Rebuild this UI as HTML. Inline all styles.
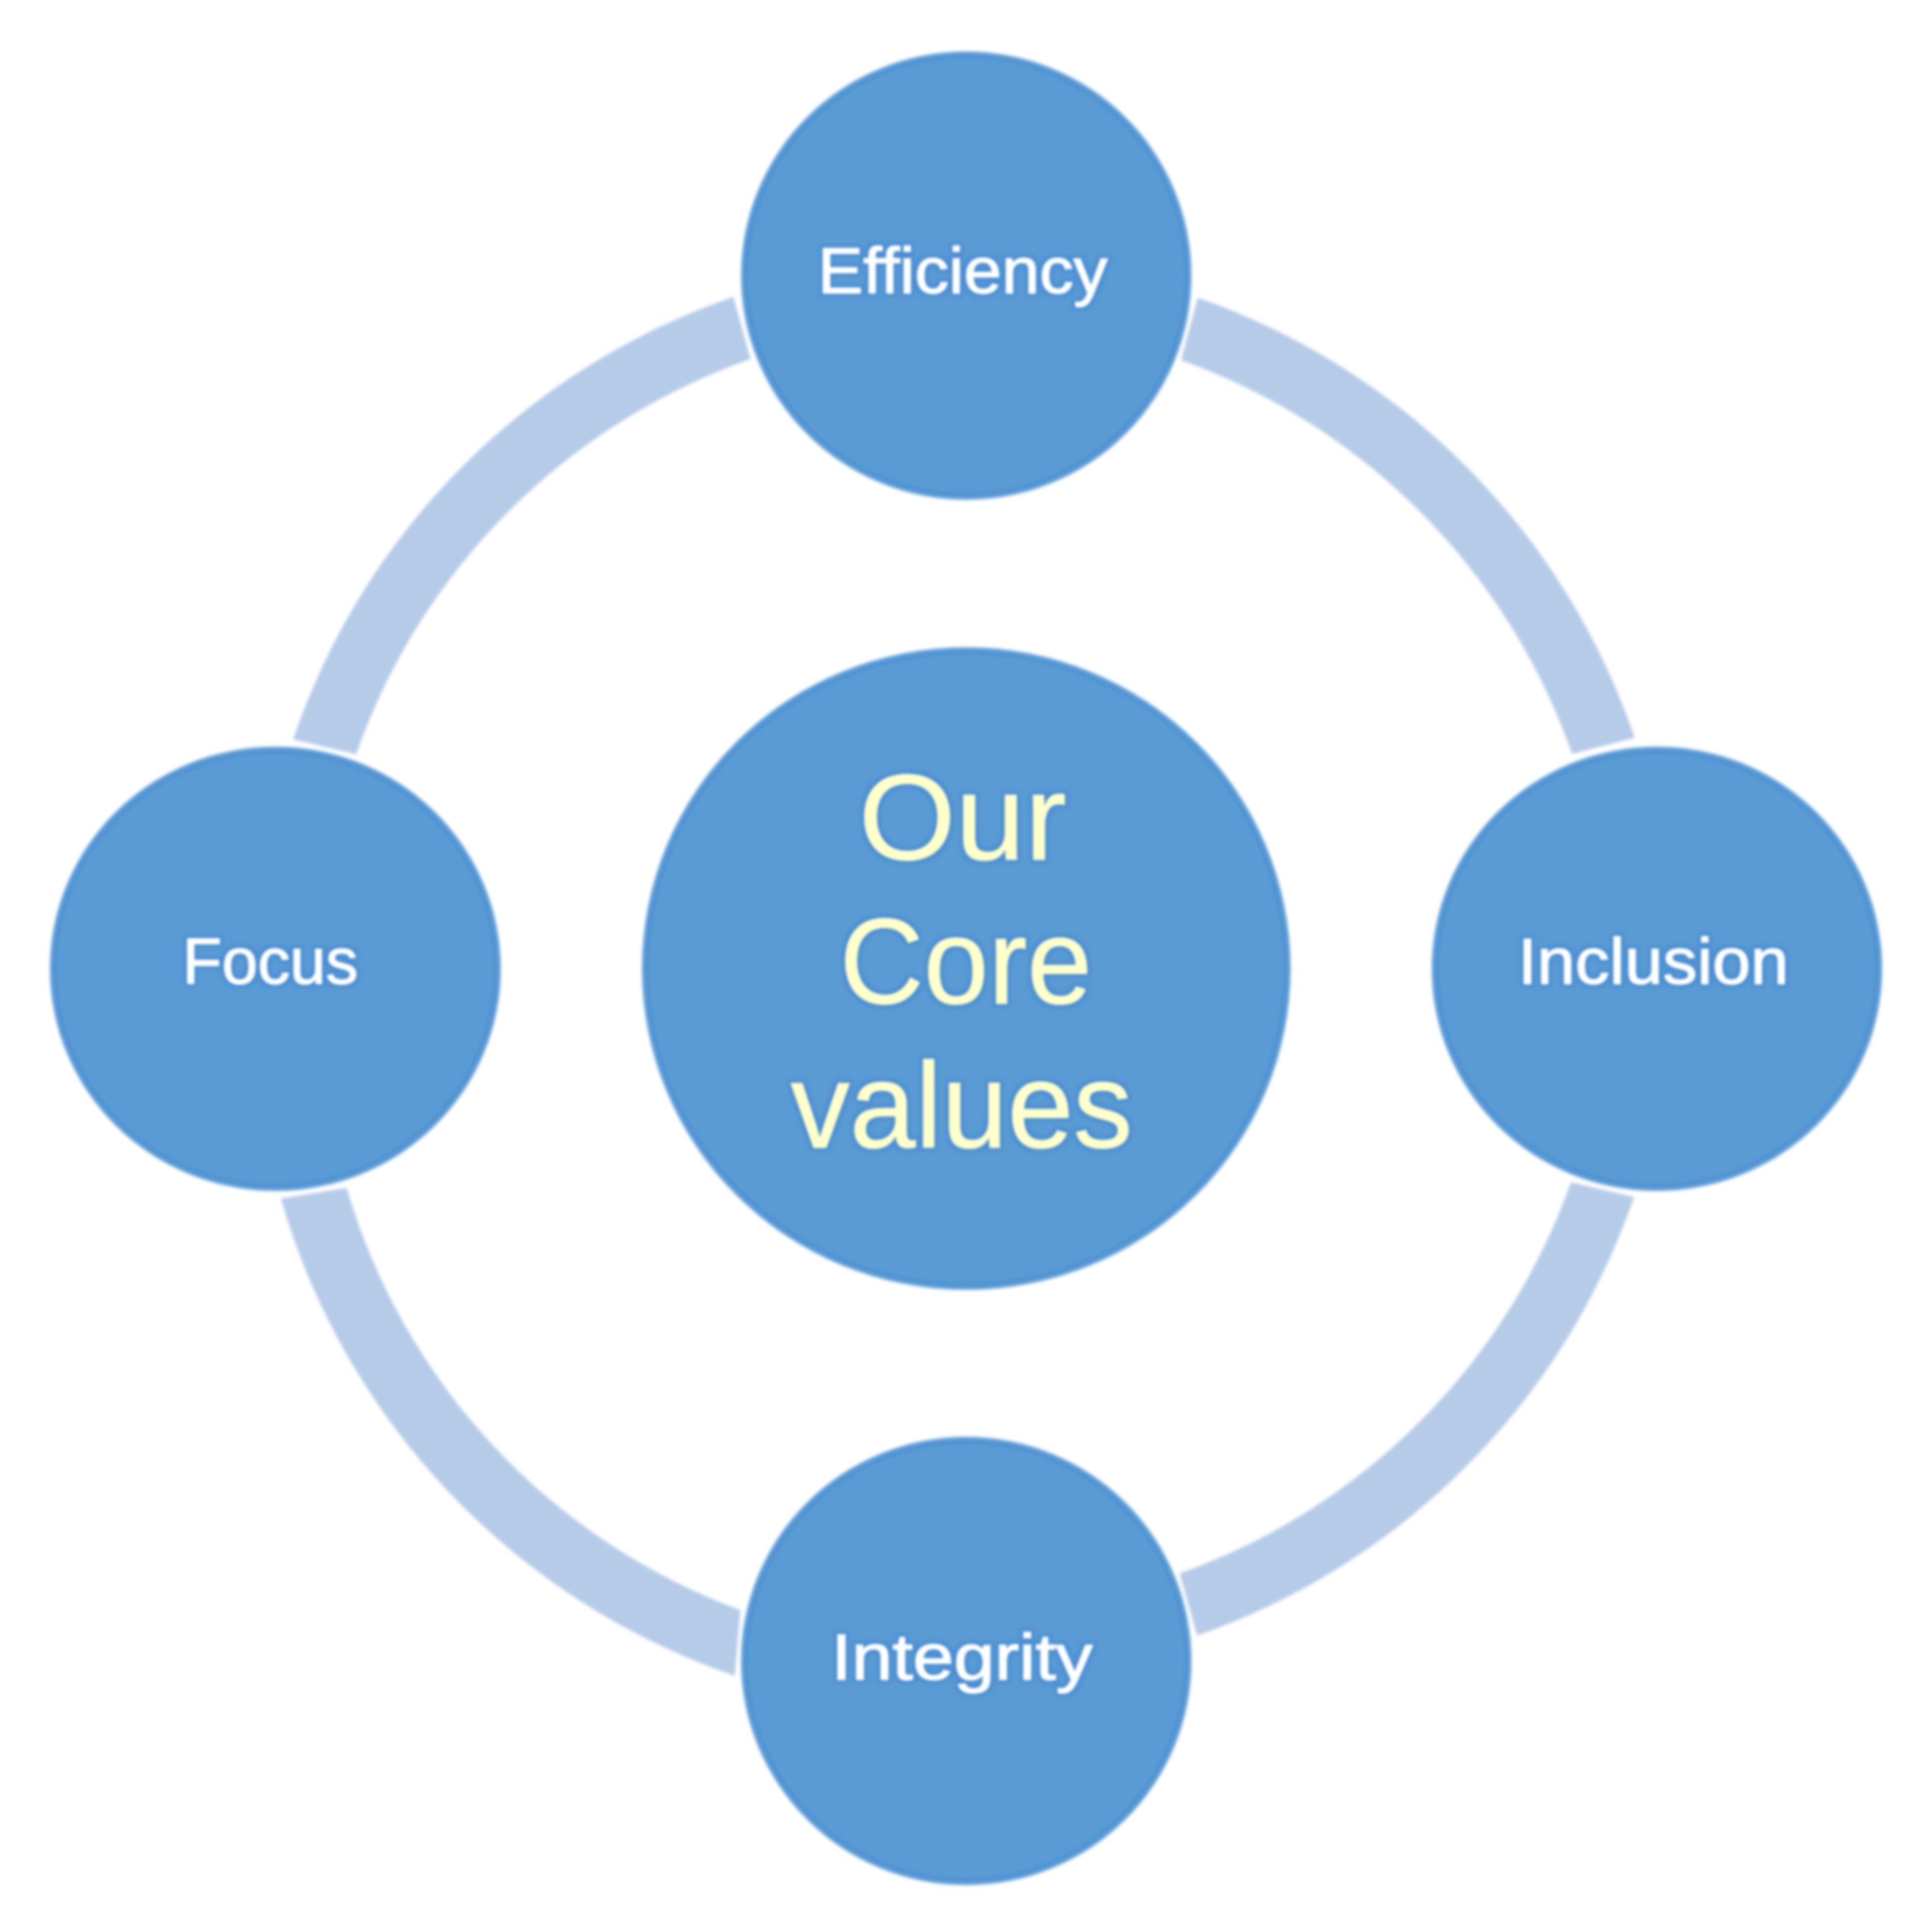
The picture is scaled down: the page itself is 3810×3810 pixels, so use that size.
<!DOCTYPE html>
<html lang="en">
<head>
<meta charset="utf-8">
<title>Our Core values</title>
<style>
html,body{margin:0;padding:0;background:#fff;}
body{width:3810px;height:3810px;overflow:hidden;}
svg{display:block;}
text{font-family:"Liberation Sans",sans-serif;}
</style>
</head>
<body>
<svg width="3810" height="3810" viewBox="0 0 3810 3810">
<defs>
<filter id="soft" x="-5%" y="-5%" width="110%" height="110%" color-interpolation-filters="sRGB">
<feGaussianBlur stdDeviation="3.2"/>
</filter>
<filter id="halo" x="-8%" y="-25%" width="116%" height="150%" color-interpolation-filters="sRGB">
<feMorphology in="SourceAlpha" operator="dilate" radius="6" result="fat"/>
<feGaussianBlur in="fat" stdDeviation="4" result="fatb"/>
<feFlood flood-color="#3B82CE" flood-opacity="0.5"/>
<feComposite in2="fatb" operator="in" result="rim"/>
<feGaussianBlur in="SourceGraphic" stdDeviation="2.4" result="ink"/>
<feMerge><feMergeNode in="rim"/><feMergeNode in="ink"/></feMerge>
</filter>
</defs>
<rect width="3810" height="3810" fill="#fff"/>
<!-- connector ring segments -->
<g fill="#B5CBE7">
<path filter="url(#soft)" d="M578.2 1458.3 A1397.0 1397.0 0 0 1 1446.0 585.4 L1480.1 708.0 A1270.0 1270.0 0 0 0 702.5 1487.3 Z"/>
<path filter="url(#soft)" d="M2362.1 587.1 A1397.0 1397.0 0 0 1 3223.7 1455.0 L3100.3 1486.8 A1270.0 1270.0 0 0 0 2329.1 710.2 Z"/>
<path filter="url(#soft)" d="M3222.4 2360.8 A1397.0 1397.0 0 0 1 2361.0 3225.3 L2326.2 3102.9 A1270.0 1270.0 0 0 0 3098.1 2331.4 Z"/>
<path filter="url(#soft)" d="M1448.9 3304.8 A1406.1 1406.1 0 0 1 554.0 2363.7 L683.5 2342.6 A1266.2 1266.2 0 0 0 1460.1 3175.4 Z"/>
</g>
<!-- nodes: centre, Efficiency, Integrity, Focus, Inclusion -->
<g filter="url(#soft)"><ellipse cx="1905.5" cy="1910.0" rx="639.5" ry="633.5" fill="#5B9BD5"/><ellipse cx="1905.5" cy="1910.0" rx="628.5" ry="622.5" fill="none" stroke="#3F86CF" stroke-width="7" stroke-opacity="0.38"/></g>
<g filter="url(#soft)"><ellipse cx="1905.5" cy="543.5" rx="444.0" ry="442.0" fill="#5B9BD5"/><ellipse cx="1905.5" cy="543.5" rx="433.0" ry="431.0" fill="none" stroke="#3F86CF" stroke-width="7" stroke-opacity="0.38"/></g>
<g filter="url(#soft)"><ellipse cx="1905.5" cy="3275.5" rx="444.0" ry="442.0" fill="#5B9BD5"/><ellipse cx="1905.5" cy="3275.5" rx="433.0" ry="431.0" fill="none" stroke="#3F86CF" stroke-width="7" stroke-opacity="0.38"/></g>
<g filter="url(#soft)"><ellipse cx="543.0" cy="1910.5" rx="444.5" ry="438.0" fill="#5B9BD5"/><ellipse cx="543.0" cy="1910.5" rx="433.5" ry="427.0" fill="none" stroke="#3F86CF" stroke-width="7" stroke-opacity="0.38"/></g>
<g filter="url(#soft)"><ellipse cx="3267.5" cy="1910.5" rx="444.0" ry="438.0" fill="#5B9BD5"/><ellipse cx="3267.5" cy="1910.5" rx="433.0" ry="427.0" fill="none" stroke="#3F86CF" stroke-width="7" stroke-opacity="0.38"/></g>
<!-- labels -->
<text filter="url(#halo)" x="1612.8" y="577.5" font-size="128" fill="#fff" stroke="#fff" stroke-width="2.5" textLength="571.2" lengthAdjust="spacingAndGlyphs">Efficiency</text>
<text filter="url(#halo)" x="359.8" y="1939.5" font-size="128" fill="#fff" stroke="#fff" stroke-width="2.5" textLength="346.4" lengthAdjust="spacingAndGlyphs">Focus</text>
<text filter="url(#halo)" x="2993.5" y="1940.0" font-size="128" fill="#fff" stroke="#fff" stroke-width="2.5" textLength="533.9" lengthAdjust="spacingAndGlyphs">Inclusion</text>
<text filter="url(#halo)" x="1639.2" y="3311.5" font-size="128" fill="#fff" stroke="#fff" stroke-width="2.5" textLength="515.6" lengthAdjust="spacingAndGlyphs">Integrity</text>
<text filter="url(#halo)" x="1693.6" y="1694.6" font-size="240" fill="#FFFFCC" stroke="#FFFFCC" stroke-width="2" textLength="409.4" lengthAdjust="spacingAndGlyphs">Our</text>
<text filter="url(#halo)" x="1656.1" y="1979.0" font-size="240" fill="#FFFFCC" stroke="#FFFFCC" stroke-width="2" textLength="497.2" lengthAdjust="spacingAndGlyphs">Core</text>
<text filter="url(#halo)" x="1559.2" y="2263.0" font-size="240" fill="#FFFFCC" stroke="#FFFFCC" stroke-width="2" textLength="674.2" lengthAdjust="spacingAndGlyphs">values</text>
</svg>
</body>
</html>
